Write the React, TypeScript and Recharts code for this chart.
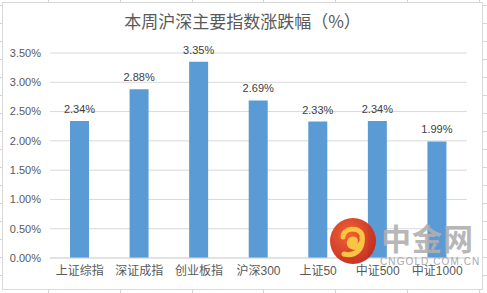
import React from "react";
import {
  BarChart,
  Bar,
  XAxis,
  YAxis,
  CartesianGrid,
  LabelList,
} from "recharts";

const categories = ["上证综指", "深证成指", "创业板指", "沪深300", "上证50", "中证500", "中证1000"];
const changes = [2.34, 2.88, 3.35, 2.69, 2.33, 2.34, 1.99];
const yTicks = [0, 0.5, 1, 1.5, 2, 2.5, 3, 3.5];

const data = categories.map((name, i) => ({ name, value: changes[i] }));

const pct = (v: number) => `${v.toFixed(2)}%`;

// excel sheet cell lines around the chart object (only the stubs that peek out)
const colLines = [48, 120, 192, 263, 335, 407, 479];
const rowLines = Array.from({ length: 17 }, (_, i) => 5 + i * 18);

function SheetGrid() {
  return (
    <svg width={487} height={293} style={{ position: "absolute", left: 0, top: 0 }}>
      {colLines.map((x) => (
        <g key={"c" + x}>
          <line x1={x + 0.5} y1={0} x2={x + 0.5} y2={2} stroke="#d4d4d4" />
          <line x1={x + 0.5} y1={289} x2={x + 0.5} y2={293} stroke="#d4d4d4" />
        </g>
      ))}
      {rowLines.map((y) => (
        <g key={"r" + y}>
          <line x1={0} y1={y + 0.5} x2={2} y2={y + 0.5} stroke="#d4d4d4" />
          <line x1={482} y1={y + 0.5} x2={487} y2={y + 0.5} stroke="#d4d4d4" />
        </g>
      ))}
    </svg>
  );
}

function Watermark() {
  return (
    <>
      <svg width={48} height={48} style={{ position: "absolute", left: 329, top: 217, opacity: 0.95 }}>
        <defs>
          <radialGradient id="lg" cx="40%" cy="35%" r="70%">
            <stop offset="0%" stopColor="#f05a28" />
            <stop offset="100%" stopColor="#c4261a" />
          </radialGradient>
        </defs>
        <circle cx={24} cy={24} r={23} fill="url(#lg)" />
        <path
          d="M14 20 C14 11, 30 9, 33 18 C35 25, 30 31, 24 30 C19 29, 19 23, 24 22 C27 22, 27 25, 25 26 M33 20 C35 32, 26 40, 15 37"
          fill="none"
          stroke="#fbc23a"
          strokeWidth={5}
          strokeLinecap="round"
        />
      </svg>
      <div
        style={{
          position: "absolute",
          left: 381,
          top: 219,
          fontFamily: "'Noto Sans CJK SC'",
          fontWeight: 700,
          fontSize: 30,
          color: "#b0b0b0",
          opacity: 0.9,
          letterSpacing: 1,
          lineHeight: "36px",
        }}
      >
        中金网
      </div>
      <div
        style={{
          position: "absolute",
          left: 380,
          top: 256,
          fontFamily: "'Liberation Sans'",
          fontSize: 10,
          color: "#a9a9a9",
          letterSpacing: 1.1,
          lineHeight: "12px",
          whiteSpace: "nowrap",
        }}
      >
        CNGOLD.COM.CN
      </div>
    </>
  );
}

export default function App() {
  return (
    <div style={{ position: "fixed", left: 0, top: 0, width: 487, height: 293, background: "#fff" }}>
      <SheetGrid />
      <div
        style={{
          position: "absolute",
          left: 2,
          top: 2,
          width: 479,
          height: 286,
          background: "#fff",
          border: "1px solid #d9d9d9",
        }}
      >
        <div
          style={{
            position: "absolute",
            left: 0,
            top: 6,
            width: "100%",
            textAlign: "center",
            fontFamily: "'Noto Sans CJK SC'",
            fontSize: 17,
            color: "#595959",
            lineHeight: "24px",
          }}
        >
          本周沪深主要指数涨跌幅（%）
        </div>
        <BarChart
          width={479}
          height={286}
          data={data}
          margin={{ top: 50, right: 15, bottom: 6, left: 0 }}
          style={{ fontFamily: "'Liberation Sans', 'Noto Sans CJK SC'" }}
        >
          <CartesianGrid vertical={false} stroke="#d9d9d9" />
          <XAxis
            dataKey="name"
            height={25}
            tickSize={0}
            tickMargin={8}
            axisLine={{ stroke: "#d9d9d9" }}
            tick={{ fill: "#595959", fontSize: 12 }}
            interval={0}
          />
          <YAxis
            width={47}
            domain={[0, 3.5]}
            ticks={yTicks}
            tickFormatter={pct}
            tickSize={0}
            tickMargin={9}
            axisLine={false}
            tick={{ fill: "#595959", fontSize: 11 }}
          />
          <Bar dataKey="value" fill="#5b9bd5" barSize={19} isAnimationActive={false}>
            <LabelList
              dataKey="value"
              position="top"
              offset={8}
              formatter={(v: number) => pct(v)}
              style={{ fill: "#404040", fontSize: 11 }}
            />
          </Bar>
        </BarChart>
      </div>
      <Watermark />
    </div>
  );
}
